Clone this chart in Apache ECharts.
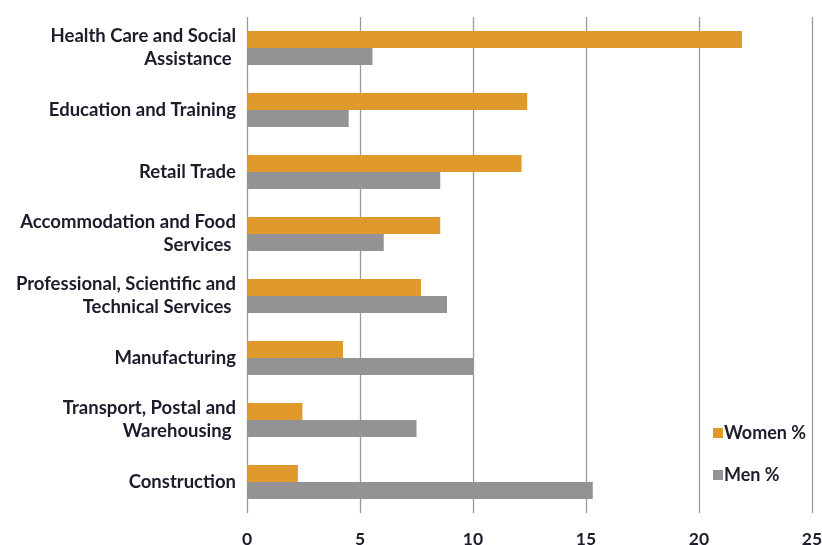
<!DOCTYPE html>
<html>
<head>
<meta charset="utf-8">
<script src="https://cdn.jsdelivr.net/npm/echarts@6/dist/echarts.min.js"></script>
<style>
  html, body { margin: 0; padding: 0; background: #fff; }
  #chart { width: 822px; height: 545px; }
</style>
</head>
<body>
<div id="chart"></div>
<script>
const industries = [
  "Health Care and Social\nAssistance ",
  "Education and Training",
  "Retail Trade",
  "Accommodation and Food\nServices ",
  "Professional, Scientific and\nTechnical Services ",
  "Manufacturing",
  "Transport, Postal and\nWarehousing ",
  "Construction"
];
const womenPct = [21.9, 12.4, 12.15, 8.55, 7.7, 4.25, 2.45, 2.25];
const menPct = [5.55, 4.5, 8.55, 6.05, 8.85, 10.0, 7.5, 15.3];
const xTicks = [0, 5, 10, 15, 20, 25];

const chart = echarts.init(document.getElementById("chart"));

const labelFont = {
  fontFamily: "Lato",
  fontWeight: "bold",
  fontSize: 18.5,
  color: "#1c1c2a"
};

chart.setOption({
  animation: false,
  grid: { left: 247, right: 10, top: 17, bottom: 32, outerBoundsMode: "none" },
  legend: {
    orient: "vertical",
    left: 708,
    top: 419,
    itemWidth: 10,
    itemHeight: 10,
    itemGap: 24,
    icon: "rect",
    textStyle: { ...labelFont, fontSize: 18, padding: [0, 0, 0, -4] },
    data: ["Women %", "Men %"]
  },
  xAxis: {
    type: "value",
    min: xTicks[0],
    max: xTicks[xTicks.length - 1],
    interval: 5,
    axisLine: { show: false },
    axisTick: { show: false },
    axisLabel: { ...labelFont, fontSize: 17.5, margin: 17 },
    splitLine: { lineStyle: { color: "#9a9a9a", width: 1.3 } }
  },
  yAxis: {
    type: "category",
    inverse: true,
    data: industries,
    axisLine: { show: false },
    axisTick: { show: false },
    axisLabel: { ...labelFont, margin: 11, lineHeight: 23, align: "right" }
  },
  series: [
    {
      name: "Women %",
      type: "bar",
      data: womenPct,
      barGap: "0%",
      barCategoryGap: "45%",
      itemStyle: { color: "#e09a2c" }
    },
    {
      name: "Men %",
      type: "bar",
      data: menPct,
      barGap: "0%",
      barCategoryGap: "45%",
      itemStyle: { color: "#939396" }
    }
  ]
});
</script>
</body>
</html>
